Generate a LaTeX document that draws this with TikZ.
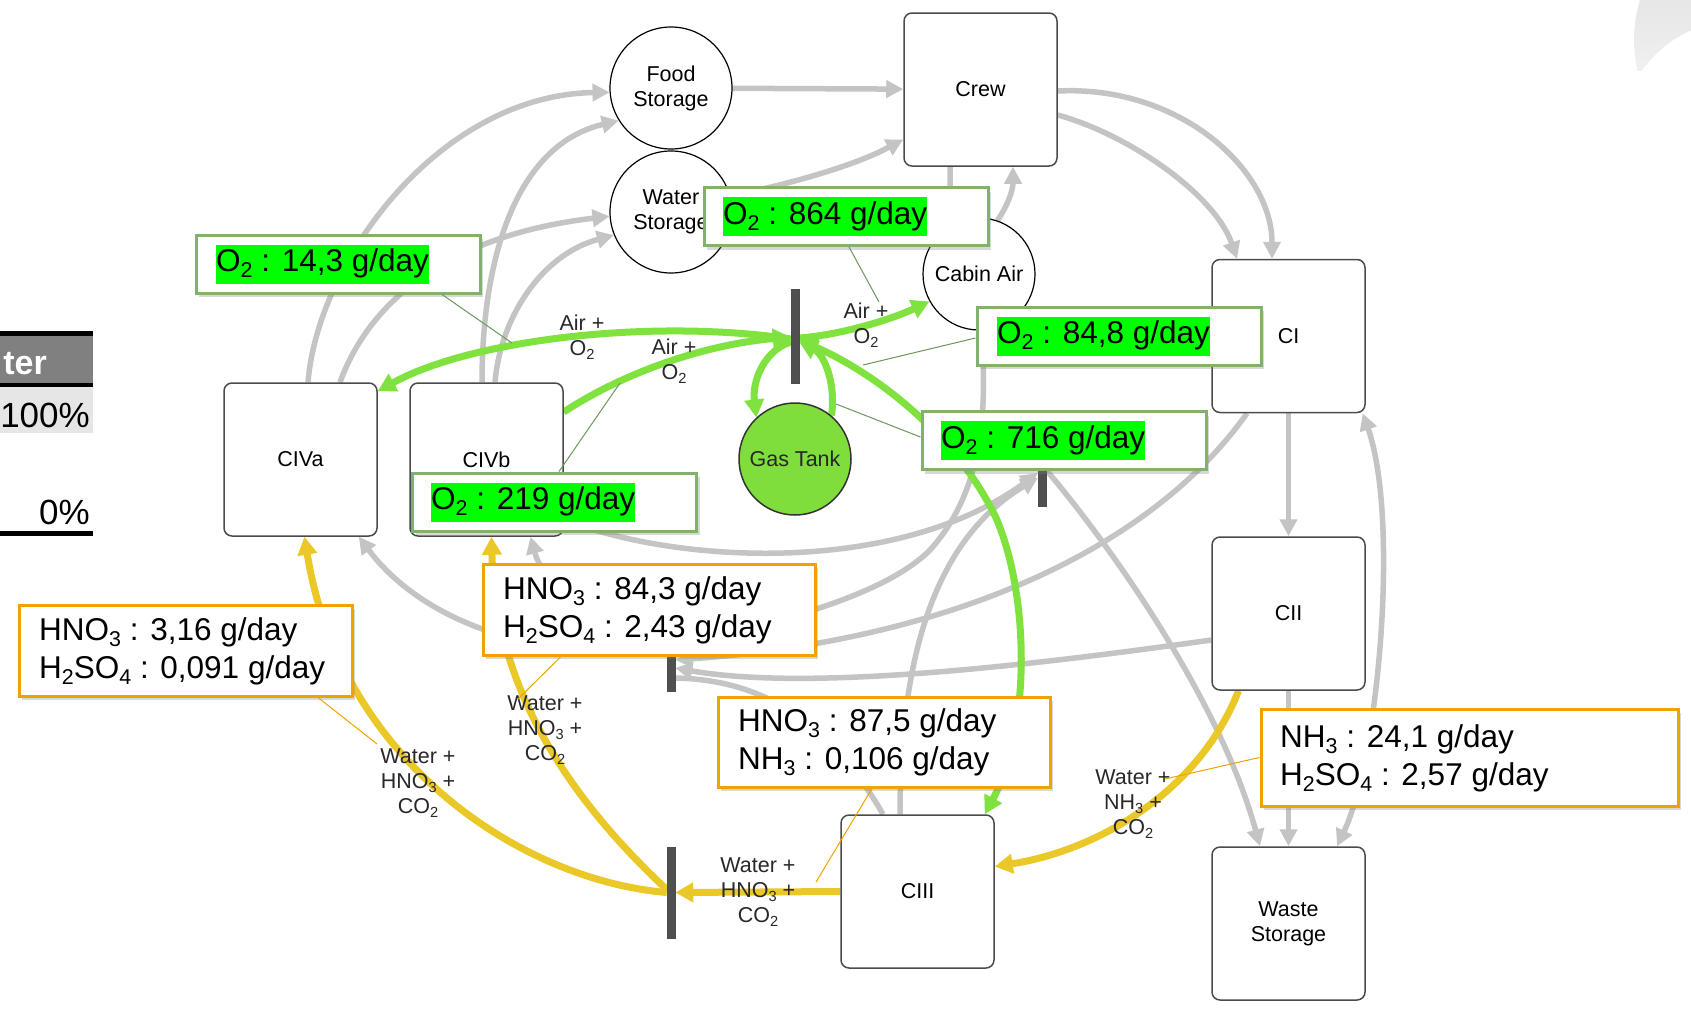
\documentclass[tikz,border=0pt]{standalone}
\usepackage{fontspec}
\setmainfont{Liberation Sans}
\usetikzlibrary{arrows.meta,shadows}
\pgfdeclarelayer{bg}
\pgfdeclarelayer{fg}
\pgfsetlayers{bg,main,fg}

\definecolor{flowgrey}{RGB}{196,196,196}
\definecolor{flowgreen}{RGB}{128,226,62}
\definecolor{flowyellow}{RGB}{234,200,40}
\definecolor{barcol}{RGB}{80,80,80}
\definecolor{boxline}{RGB}{75,75,75}
\definecolor{hlgreen}{RGB}{0,255,0}
\definecolor{gborder}{RGB}{128,178,110}
\definecolor{oborder}{RGB}{240,162,0}
\definecolor{tankgreen}{RGB}{128,222,60}
\definecolor{flowtext}{RGB}{40,40,40}
\definecolor{hdrgrey}{RGB}{128,128,128}
\definecolor{rowgrey}{RGB}{230,230,230}

% chemical-formula subscript, sized and dropped relative to the running font
\newcommand\sub[1]{\raisebox{-0.2em}{\scalebox{0.68}{#1}}}
\newcommand\bigfont{\fontsize{31.5}{38}\selectfont}
\newcommand\midfont{\fontsize{21.5}{25}\selectfont}

\tikzset{
  comp/.style={draw=boxline, line width=1.5pt, rounded corners=8pt, fill=white,
    minimum width=153pt, minimum height=153pt, inner sep=0pt, font=\midfont, align=center},
  store/.style={circle, draw=black, line width=1.2pt, fill=white, minimum size=122pt,
    inner sep=0pt, font=\midfont, align=center},
  smallstore/.style={store, minimum size=112pt},
  barnode/.style={fill=barcol, draw=black!70, line width=0.5pt, minimum width=8pt, inner sep=0pt},
  greyflow/.style={draw=flowgrey, line width=5.5pt, -{Triangle[length=17pt,width=17pt]}},
  greyline/.style={draw=flowgrey, line width=5.5pt},
  greenflow/.style={draw=flowgreen, line width=7pt, -{Triangle[length=18pt,width=19pt]}},
  yellowflow/.style={draw=flowyellow, line width=7pt, -{Triangle[length=18pt,width=19pt]}},
  flowlabel/.style={font=\midfont, text=flowtext, align=center, inner sep=0pt},
  gbox/.style={draw=gborder, line width=3pt, fill=white, minimum width=284pt, minimum height=58pt,
    inner sep=0pt, drop shadow={shadow xshift=3pt, shadow yshift=-4pt, opacity=0.3}},
  obox/.style={draw=oborder, line width=3pt, fill=white, inner sep=0pt,
    drop shadow={shadow xshift=3pt, shadow yshift=-4pt, opacity=0.3}},
  hl/.style={fill=hlgreen, inner xsep=0pt, inner ysep=3pt, text height=24pt, text depth=9pt, font=\bigfont},
  otext/.style={font=\bigfont, align=left, inner sep=0pt},
  gleader/.style={draw=gborder!85!black, line width=1pt},
  oleader/.style={draw=oborder, line width=1pt},
}

\begin{document}
\begin{tikzpicture}[x=1pt, y=-1pt]
\useasboundingbox (0,0) rectangle (1691,1009);

\begin{pgfonlayer}{bg}
\fill[white] (0,0) rectangle (1691,1009);
% ---- corner ornament, top right
\begin{scope}
  \clip (1600,0) rectangle (1691,70);
  \shade[top color=black!15, bottom color=white] (1770,40) circle (136);
  \fill[white] (1740,140) circle (120);
\end{scope}
\end{pgfonlayer}

% ---- table fragment at the left edge
\fill[black] (0,331) rectangle (93,336);
\fill[hdrgrey] (0,336) rectangle (93,383);
\fill[black] (0,383) rectangle (93,387);
\fill[rowgrey] (0,387) rectangle (93,433);
\fill[black] (0,531) rectangle (93,536);
\node[anchor=base east, inner sep=0pt, text=white, font=\bfseries\fontsize{34}{38}\selectfont] (hdr) at (47,374) {ter};
\node[anchor=base east, inner sep=0pt, font=\fontsize{35}{40}\selectfont] (rowfull) at (90,427) {100\%};
\node[anchor=base east, inner sep=0pt, font=\fontsize{35}{40}\selectfont] (rowempty) at (90,524) {0\%};

% ---- compartments and stores
\node[store] (food) at (671,88) {Food\\Storage};
\node[store] (water) at (671,212) {Water\\Storage};
\node[comp] (crew) at (980.5,89.5) {Crew};
\node[smallstore] (cabin) at (979,274) {Cabin Air};
\node[comp] (ci) at (1288.5,336) {CI};
\node[comp] (cii) at (1288.5,613.5) {CII};
\node[comp] (waste) at (1288.5,923.5) {Waste\\Storage};
\node[comp] (ciii) at (917.5,891.5) {CIII};
\node[comp] (civa) at (300.5,459.5) {CIVa};
\node[comp] (civb) at (486.5,459.5) {CIVb};
\node[smallstore, fill=tankgreen, draw=black!80, line width=1.5pt, text=black!85] (tank) at (795,459) {Gas Tank};

% ---- splitter bars
\node[barnode, minimum height=94pt] (bara) at (795,336) {};
\node[barnode, minimum height=76pt] (barb) at (1042,468) {};
\node[barnode, minimum height=76pt] (barc) at (671,653) {};
\node[barnode, minimum height=91pt] (bard) at (671,892.5) {};

\begin{pgfonlayer}{bg}
% ---- grey flows
\draw[greyflow] ([xshift=7.5pt]civa.north) .. controls (318,260) and (440,95) .. (food.184);
\draw[greyflow] ([xshift=39.5pt]civa.north) .. controls (370,300) and (450,235) .. (water.184);
\draw[greyflow] ([xshift=-4.5pt]civb.north) .. controls (482,260) and (515,145) .. (food.212);
\draw[greyflow] ([xshift=8.5pt]civb.north) .. controls (500,320) and (540,255) .. (water.202);
\draw[greyflow] (food) -- (crew);
\draw[greyflow] (water.15) .. controls (780,186) and (850,168) .. ([yshift=-50pt]crew.west);
\draw[greyflow] ([xshift=-30.5pt]crew.south) .. controls (950,195) and (950,210) .. (cabin.121);
\draw[greyflow] (cabin.71) .. controls (1008,205) and (1013,190) .. ([xshift=32.5pt]crew.south);
\draw[greyflow] ([yshift=-1.5pt]crew.east) .. controls (1180,85) and (1272,170) .. ([xshift=-16.5pt]ci.north);
\draw[greyflow] ([yshift=-25.5pt]crew.east) .. controls (1130,135) and (1215,195) .. ([xshift=-51.5pt]ci.north);
\draw[greyflow] (ci) -- (cii);
\draw[greyflow] (cii) -- (waste);
\draw[draw=flowgrey, line width=5.5pt, {Triangle[length=17pt,width=17pt]}-{Triangle[length=17pt,width=17pt]}]
  ([xshift=-3pt]ci.south east) .. controls (1400,520) and (1378,760) .. ([xshift=48.5pt]waste.north);
\draw[greyflow] ([yshift=-2pt]barb.east) .. controls (1110,545) and (1220,700) .. ([xshift=-28.5pt]waste.north);
\draw[greyflow] ([yshift=-60pt]civb.east) .. controls (680,565) and (900,575) .. ([yshift=-5pt]barb.west);
\draw[greyflow] ([xshift=-17.5pt]ciii.north) .. controls (900,680) and (925,545) .. ([yshift=-10pt]barb.west);
\draw[greyflow] (cabin.-88) .. controls (990,430) and (975,500) .. (930,550)
  .. controls (880,600) and (760,625) .. ([yshift=5pt]barc.east);
\draw[greyflow] ([xshift=-41.5pt]ci.south) .. controls (1150,550) and (950,640) .. ([yshift=-7pt]barc.east);
\draw[greyflow] ([yshift=-26.5pt]cii.west) .. controls (1000,670) and (800,690) .. ([yshift=-15pt]barc.east);
\draw[greyline] ([xshift=-34.5pt]ciii.north) .. controls (840,740) and (780,680) .. ([yshift=-25pt]barc.east);
\draw[greyflow] (barc.west) .. controls (540,660) and (425,625) .. ([xshift=-19pt]civa.south east);
\draw[greyflow] ([yshift=8pt]barc.west) .. controls (600,620) and (545,590) .. ([xshift=44pt]civb.south);

% ---- green gas flows
\draw[greenflow] ([yshift=-3pt]bara.west) .. controls (650,318) and (470,340) .. ([yshift=-9pt]civa.north east);
\draw[greenflow] ([yshift=47.5pt]civb.east) .. controls (620,375) and (700,345) .. ([yshift=-1pt]bara.west);
\draw[greenflow] ([yshift=-2pt]bara.east) .. controls (840,335) and (890,320) .. (cabin.209);
\draw[greenflow] ([yshift=-6pt]bara.west) .. controls (765,350) and (752,380) .. (tank.133);
\draw[greenflow] (tank.50) .. controls (836,385) and (825,355) .. ([yshift=-6pt]bara.east);
\draw[draw=flowgreen, line width=7pt, {Triangle[length=18pt,width=19pt]}-{Triangle[length=18pt,width=19pt]}]
  ([yshift=-4pt]bara.east) .. controls (880,375) and (960,440) .. (997,520)
  .. controls (1030,600) and (1030,730) .. ([xshift=-10pt]ciii.north east);

% ---- yellow liquid flows
\draw[yellowflow] (ciii.west) -- (bard.east);
\draw[yellowflow] (bard.west) .. controls (520,880) and (340,760) .. ([xshift=4pt]civa.south);
\draw[yellowflow] ([yshift=3pt]bard.west) .. controls (560,790) and (495,680) .. ([xshift=5pt]civb.south);
\draw[yellowflow] ([xshift=-50pt]cii.south) .. controls (1200,790) and (1100,850) .. ([yshift=25pt]ciii.east);
\end{pgfonlayer}

% ---- flow captions
\node[flowlabel] (capa) at (582,337) {Air +\\O\sub2};
\node[flowlabel] (capb) at (674,361) {Air +\\O\sub2};
\node[flowlabel] (capc) at (866,325) {Air +\\O\sub2};
\node[flowlabel] (capd) at (758,892) {Water +\\HNO\sub3 +\\CO\sub2};
\node[flowlabel] (cape) at (418,783) {Water +\\HNO\sub3 +\\CO\sub2};
\node[flowlabel] (capf) at (545,730) {Water +\\HNO\sub3 +\\CO\sub2};
\node[flowlabel] (capg) at (1133,804) {Water +\\NH\sub3 +\\CO\sub2};

\begin{pgfonlayer}{fg}
% ---- oxygen call-outs
\node[gbox] (g143) at (338,264) {};
\node[gbox] (g864) at (846,216.5) {};
\node[gbox] (g848) at (1119,336) {};
\node[gbox] (g716) at (1064,440.5) {};
\node[gbox] (g219) at (554.5,502) {};
\node[hl, anchor=west] (t143) at (216,264) {O\sub2 : 14,3 g/day};
\node[hl, anchor=west] (t864) at (723,216.5) {O\sub2 : 864 g/day};
\node[hl, anchor=west] (t848) at (997,336) {O\sub2 : 84,8 g/day};
\node[hl, anchor=west] (t716) at (941,440.5) {O\sub2 : 716 g/day};
\node[hl, anchor=west] (t219) at (431,502) {O\sub2 : 219 g/day};

\coordinate (p143) at (512,343);
\coordinate (p864) at (879,302);
\coordinate (p848) at (863,365);
\coordinate (p716) at (836,404);
\coordinate (p219) at (620,383);
\draw[gleader] ([xshift=104pt]g143.south) -- (p143);
\draw[gleader] ([xshift=3pt]g864.south) -- (p864);
\draw[gleader] ([yshift=-2pt]g848.west) -- (p848);
\draw[gleader] ([yshift=3.5pt]g716.west) -- (p716);
\draw[gleader] ([xshift=4.5pt]g219.north) -- (p219);

% ---- acid / ammonia call-outs
\node[obox, minimum width=333pt, minimum height=91pt] (o316) at (185.5,650.5) {};
\node[obox, minimum width=332pt, minimum height=91pt] (o843) at (649,609.5) {};
\node[obox, minimum width=332pt, minimum height=90pt] (o875) at (884,742) {};
\node[obox, minimum width=417pt, minimum height=97pt] (o241) at (1469.5,757.5) {};
\node[otext, anchor=west] (x316) at (39,651) {HNO\sub3 : 3,16 g/day\\H\sub2SO\sub4 : 0,091 g/day};
\node[otext, anchor=west] (x843) at (503,610) {HNO\sub3 : 84,3 g/day\\H\sub2SO\sub4 : 2,43 g/day};
\node[otext, anchor=west] (x875) at (738,742) {HNO\sub3 : 87,5 g/day\\NH\sub3 : 0,106 g/day};
\node[otext, anchor=west] (x241) at (1280,758) {NH\sub3 : 24,1 g/day\\H\sub2SO\sub4 : 2,57 g/day};

\coordinate (q316) at (377,744);
\coordinate (q843) at (518,699);
\coordinate (q875) at (816,882);
\coordinate (q241) at (1165,779);
\draw[oleader] ([xshift=132.5pt]o316.south) -- (q316);
\draw[oleader] ([xshift=-88pt]o843.south) -- (q843);
\draw[oleader] ([xshift=-12pt]o875.south) -- (q875);
\draw[oleader] (o241.west) -- (q241);
\end{pgfonlayer}
\end{tikzpicture}
\end{document}
